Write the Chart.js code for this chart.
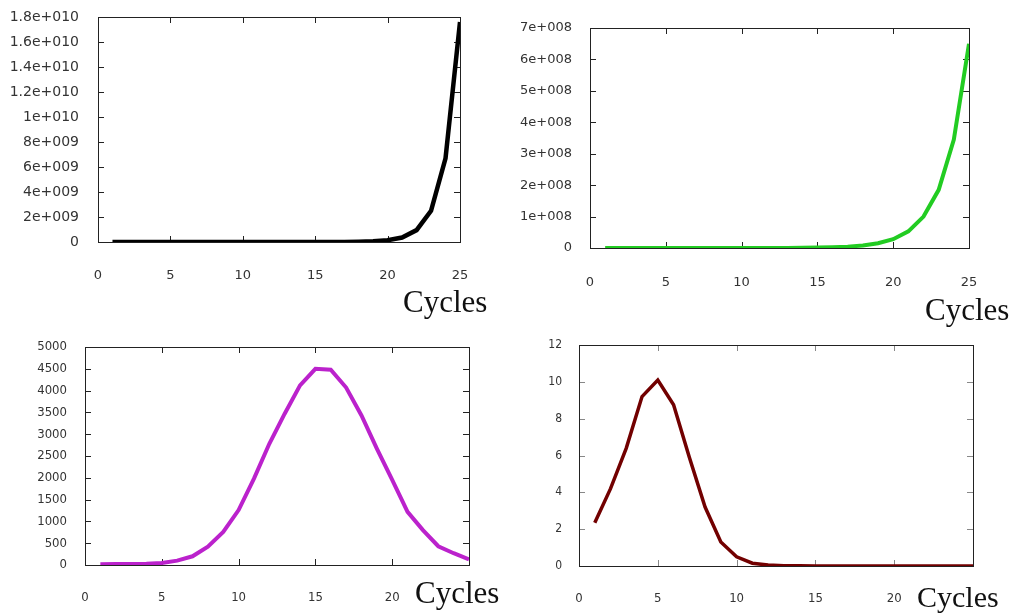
<!DOCTYPE html>
<html>
<head>
<meta charset="utf-8">
<script src="https://cdn.jsdelivr.net/npm/chart.js@4"></script>
<style>
    body { margin: 0; background: #fff; }
    #page { position: relative; width: 1011px; height: 613px; overflow: hidden; }
    .panel { position: absolute; }
    .cycles { position: absolute; font-family: "Liberation Serif", serif; color: #111; white-space: nowrap; }
</style>
</head>
<body>
<div id="page">
    <div class="panel" style="left:0px;top:0px"><canvas id="chart1" width="500" height="320"></canvas></div>
    <div class="panel" style="left:500px;top:0px"><canvas id="chart2" width="511" height="330"></canvas></div>
    <div class="panel" style="left:0px;top:330px"><canvas id="chart3" width="510" height="283"></canvas></div>
    <div class="panel" style="left:505px;top:330px"><canvas id="chart4" width="506" height="283"></canvas></div>
    <div class="cycles" style="left:403px;top:286px;font-size:31px;line-height:31px">Cycles</div>
    <div class="cycles" style="left:925px;top:294px;font-size:31px;line-height:31px">Cycles</div>
    <div class="cycles" style="left:415px;top:577px;font-size:31px;line-height:31px">Cycles</div>
    <div class="cycles" style="left:917px;top:582px;font-size:30px;line-height:30px">Cycles</div>
</div>
<script>
/************** data ****************/

const cycles = [1, 2, 3, 4, 5, 6, 7, 8, 9, 10, 11, 12, 13, 14, 15, 16, 17, 18, 19, 20, 21, 22, 23, 24, 25];

// top left, black
const values1 = [1.5, 4, 10, 27, 72, 190, 490, 1300, 3400, 8900, 2.3e4, 6.1e4, 1.6e5, 4.2e5, 1.1e6,
    2.9e6, 7.7e6, 2.0e7, 5.3e7, 1.4e8, 3.6e8, 9.5e8, 2.5e9, 6.7e9, 1.76e10];
const yLabels1 = ['0', '2e+009', '4e+009', '6e+009', '8e+009', '1e+010', '1.2e+010', '1.4e+010', '1.6e+010', '1.8e+010'];
const xLabels1 = ['0', '5', '10', '15', '20', '25'];

// top right, green
const values2 = [190, 360, 670, 1200, 2300, 4400, 8200, 1.5e4, 2.9e4, 5.4e4, 1.0e5, 1.9e5, 3.5e5, 6.5e5, 1.2e6,
    2.3e6, 4.3e6, 8.0e6, 1.5e7, 2.8e7, 5.3e7, 1.0e8, 1.85e8, 3.45e8, 6.5e8];
const yLabels2 = ['0', '1e+008', '2e+008', '3e+008', '4e+008', '5e+008', '6e+008', '7e+008'];
const xLabels2 = ['0', '5', '10', '15', '20', '25'];

// bottom left, magenta
const values3 = [20, 22, 25, 30, 45, 100, 200, 420, 760, 1260, 1980, 2780, 3470, 4120, 4500,
    4480, 4070, 3430, 2670, 1950, 1220, 800, 430, 270, 130];
const yLabels3 = ['0', '500', '1000', '1500', '2000', '2500', '3000', '3500', '4000', '4500', '5000'];
const xLabels3 = ['0', '5', '10', '15', '20', ''];

// bottom right, dark red
const values4 = [2.35, 4.2, 6.4, 9.2, 10.1, 8.75, 5.9, 3.2, 1.3, 0.5, 0.15, 0.05, 0.02, 0.01, 0,
    0, 0, 0, 0, 0, 0, 0, 0, 0, 0];
const yLabels4 = ['0', '2', '4', '6', '8', '10', '12'];
const xLabels4 = ['0', '5', '10', '15', '20', ''];

/************** plot box with inward ticks (gnuplot style) ****************/

const boxTicks = {
    id: 'boxTicks',
    beforeDatasetsDraw(chart, args, opts) {
        const ctx = chart.ctx;
        const a = chart.chartArea;
        const x = chart.scales.x;
        const y = chart.scales.y;
        const len = 6;
        ctx.save();
        ctx.lineWidth = 1;
        ctx.strokeStyle = opts.tickColor;
        ctx.beginPath();
        x.ticks.forEach((t) => {
            let px = Math.round(x.getPixelForValue(t.value)) + 0.5;
            if (px <= a.left + 1 || px >= a.right - 1) return;
            ctx.moveTo(px, a.bottom);
            ctx.lineTo(px, a.bottom - len);
            ctx.moveTo(px, a.top);
            ctx.lineTo(px, a.top + len);
        });
        y.ticks.forEach((t) => {
            let py = Math.round(y.getPixelForValue(t.value)) + 0.5;
            if (py <= a.top + 1 || py >= a.bottom - 1) return;
            ctx.moveTo(a.left, py);
            ctx.lineTo(a.left + len, py);
            ctx.moveTo(a.right, py);
            ctx.lineTo(a.right - len, py);
        });
        ctx.stroke();
        ctx.strokeStyle = opts.boxColor;
        ctx.strokeRect(Math.round(a.left) + 0.5, Math.round(a.top) + 0.5, Math.round(a.width), Math.round(a.height));
        ctx.restore();
    }
};

function makeChart(id, values, color, lineWidth, yMax, yStep, yLabels, xLabels, frame) {
    const points = [];
    for (let i = 0; i < cycles.length; i++) {
        points.push({ x: cycles[i], y: values[i] });
    }

    const info = {
        datasets: [{
            data: points,
            borderColor: color,
            borderWidth: lineWidth,
            pointRadius: 0,
            tension: 0,
            fill: false
        }]
    };
    const config = {
        type: 'line',
        data: info,
        plugins: [boxTicks],
        options: {
            responsive: false,
            animation: false,
            layout: { padding: frame.padding },
            plugins: {
                legend: { display: false },
                tooltip: { enabled: false },
                boxTicks: { tickColor: frame.tickColor, boxColor: '#222' }
            },
            scales: {
                x: {
                    type: 'linear',
                    min: 0,
                    max: 25,
                    grid: { display: false, drawTicks: false },
                    border: { display: false },
                    afterFit: (scale) => {
                        scale.height = frame.xHeight;
                        scale.paddingLeft = 0;
                        scale.paddingRight = 0;
                    },
                    afterBuildTicks: (scale) => {
                        scale.ticks = [0, 5, 10, 15, 20, 25].map((v) => ({ value: v }));
                    },
                    ticks: {
                        padding: frame.xPad,
                        maxRotation: 0,
                        autoSkip: false,
                        color: '#333',
                        font: { family: frame.font, size: frame.xSize },
                        callback: (v, i) => xLabels[i]
                    }
                },
                y: {
                    min: 0,
                    max: yMax,
                    grid: { display: false, drawTicks: false },
                    border: { display: false },
                    afterFit: (scale) => {
                        scale.width = frame.yWidth;
                        scale.paddingTop = 0;
                        scale.paddingBottom = 0;
                    },
                    ticks: {
                        stepSize: yStep,
                        padding: frame.yPad,
                        autoSkip: false,
                        color: '#333',
                        font: { family: frame.font, size: frame.ySize },
                        callback: (v, i) => yLabels[i]
                    }
                }
            }
        }
    };

    return new Chart(document.getElementById(id), config);
}

makeChart('chart1', values1, '#000000', 4.5, 1.8e10, 2e9, yLabels1, xLabels1, {
    padding: { left: 0, top: 17, right: 40, bottom: 28 },
    xHeight: 50, yWidth: 98, xPad: 26, yPad: 19,
    font: 'DejaVu Sans', xSize: 13, ySize: 14, tickColor: '#222'
});

makeChart('chart2', values2, '#22cc22', 4, 7e8, 1e8, yLabels2, xLabels2, {
    padding: { left: 0, top: 28, right: 42, bottom: 32 },
    xHeight: 50, yWidth: 90, xPad: 27, yPad: 18,
    font: 'DejaVu Sans', xSize: 13, ySize: 13, tickColor: '#222'
});

makeChart('chart3', values3, '#bb22cc', 4, 5000, 500, yLabels3, xLabels3, {
    padding: { left: 0, top: 17, right: 41, bottom: 8 },
    xHeight: 40, yWidth: 85, xPad: 25, yPad: 18,
    font: 'DejaVu Sans Condensed', xSize: 13, ySize: 13, tickColor: '#222'
});

makeChart('chart4', values4, '#720000', 3.5, 12, 2, yLabels4, xLabels4, {
    padding: { left: 0, top: 15, right: 38, bottom: 7 },
    xHeight: 40, yWidth: 74, xPad: 25, yPad: 17,
    font: 'DejaVu Sans Condensed', xSize: 13, ySize: 12, tickColor: '#888'
});
</script>
</body>
</html>
